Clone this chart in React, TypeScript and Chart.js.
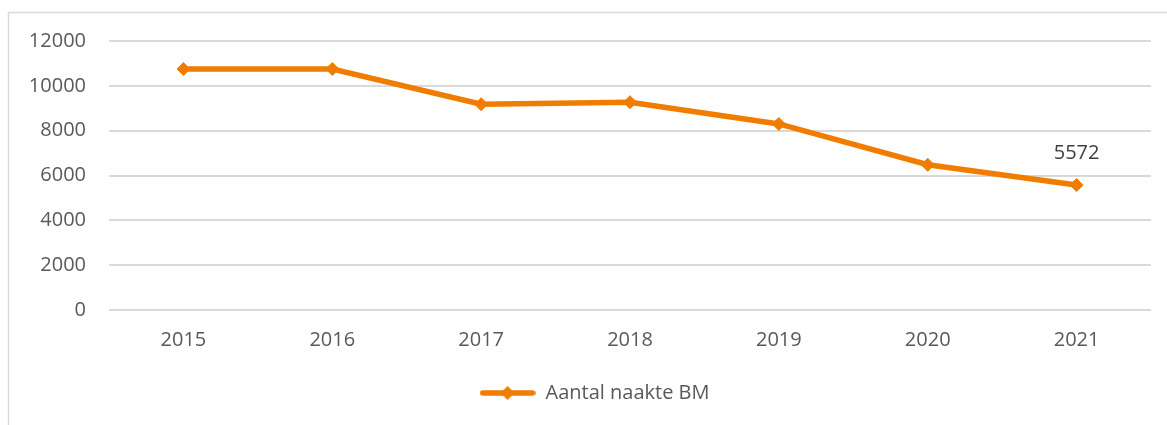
import React, { useEffect, useRef } from "react";
import { Chart, registerables } from "chart.js";

Chart.register(...registerables);

const categories: string[] = ["2015", "2016", "2017", "2018", "2019", "2020", "2021"];
const seriesLabel = "Aantal naakte BM";
const seriesValues: number[] = [10750, 10750, 9180, 9270, 8300, 6480, 5572];
const yTicks: number[] = [0, 2000, 4000, 6000, 8000, 10000, 12000];
const labelledIndex = 6;

const ORANGE = "#F07D00";
const TEXT = "#595959";
const FONT = "'Open Sans', 'Noto Sans', sans-serif";

function makeLegendSymbol(): HTMLCanvasElement {
  const c = document.createElement("canvas");
  c.width = 56;
  c.height = 16;
  const g = c.getContext("2d")!;
  g.strokeStyle = ORANGE;
  g.lineWidth = 5.5;
  g.lineCap = "round";
  g.beginPath();
  g.moveTo(3, 8);
  g.lineTo(53, 8);
  g.stroke();
  g.fillStyle = ORANGE;
  g.beginPath();
  g.moveTo(28 - 7, 8);
  g.lineTo(28, 8 - 7);
  g.lineTo(28 + 7, 8);
  g.lineTo(28, 8 + 7);
  g.closePath();
  g.fill();
  return c;
}

const frame = {
  id: "frame",
  beforeDraw(chart: any) {
    const ctx = chart.ctx;
    ctx.save();
    ctx.fillStyle = "#ffffff";
    ctx.fillRect(0, 0, chart.width, chart.height);
    ctx.strokeStyle = "#d9d9d9";
    ctx.lineWidth = 1.5;
    ctx.strokeRect(8.5, 12.5, chart.width + 20, chart.height + 20);
    ctx.restore();
  },
};

const legendShift = {
  id: "legendShift",
  afterLayout(chart: any) {
    const lg = chart.legend;
    if (lg) {
      lg.left += 19;
      lg.right += 19;
    }
  },
};

const valueLabel = {
  id: "valueLabel",
  afterDatasetsDraw(chart: any) {
    const meta = chart.getDatasetMeta(0);
    const pt = meta.data[labelledIndex];
    if (!pt) return;
    const ctx = chart.ctx;
    ctx.save();
    ctx.fillStyle = "#404040";
    ctx.font = `20px ${FONT}`;
    ctx.textAlign = "center";
    ctx.textBaseline = "middle";
    ctx.fillText(String(seriesValues[labelledIndex]), pt.x, pt.y - 32);
    ctx.restore();
  },
};

export default function App() {
  const ref = useRef<HTMLCanvasElement>(null);
  useEffect(() => {
    if (!ref.current) return;
    const chart = new Chart(ref.current, {
      type: "line",
      data: {
        labels: categories,
        datasets: [
          {
            label: seriesLabel,
            data: seriesValues,
            borderColor: ORANGE,
            backgroundColor: ORANGE,
            borderWidth: 5.5,
            pointStyle: "rectRot",
            pointRadius: 6.5,
            pointBorderWidth: 1,
            pointBackgroundColor: ORANGE,
            pointBorderColor: ORANGE,
            tension: 0,
          },
        ],
      },
      options: {
        animation: false,
        responsive: false,
        layout: { padding: { left: 0, right: 16, top: 41, bottom: 12 } },
        plugins: {
          legend: {
            position: "bottom",
            labels: {
              usePointStyle: true,
              pointStyle: makeLegendSymbol() as any,
              pointStyleWidth: 56,
              boxHeight: 16,
              padding: 10,
              color: TEXT,
              font: { size: 20, family: FONT },
            },
          },
          tooltip: { enabled: false },
        },
        scales: {
          x: {
            offset: true,
            grid: { display: false, drawTicks: false },
            border: { display: false },
            ticks: { color: TEXT, font: { size: 20, family: FONT }, padding: 18 },
            afterFit(scale: any) {
              scale.height = 63;
            },
          },
          y: {
            min: 0,
            max: 12000,
            afterBuildTicks(scale: any) {
              scale.ticks = yTicks.map((v) => ({ value: v }));
            },
            grid: { color: "#d9d9d9", lineWidth: 2, drawTicks: false },
            border: { display: false },
            ticks: {
              color: TEXT,
              font: { size: 20, family: FONT },
              padding: 23,
              callback: (v: any) => String(v),
            },
            afterFit(scale: any) {
              scale.width = 109;
            },
          },
        },
      },
      plugins: [frame, legendShift, valueLabel],
    });
    return () => chart.destroy();
  }, []);
  return (
    <div style={{ position: "absolute", left: 0, top: 0, width: 1167, height: 425 }}>
      <canvas ref={ref} width={1167} height={425} />
    </div>
  );
}
